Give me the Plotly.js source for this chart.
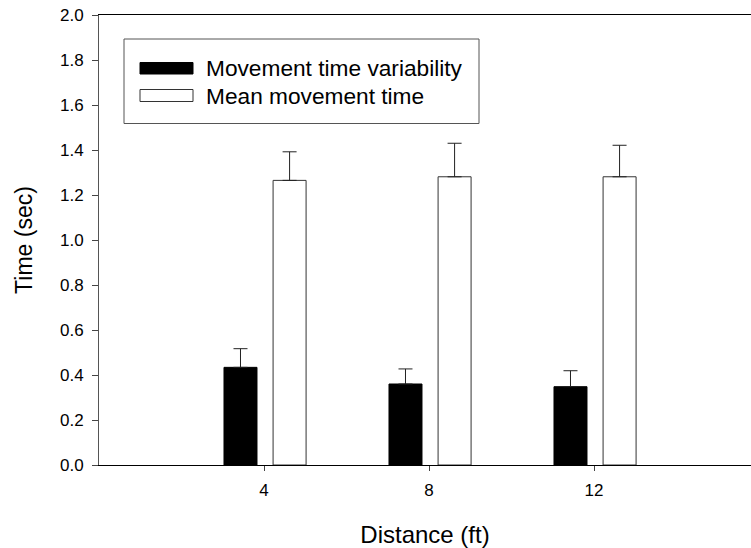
<!DOCTYPE html>
<html><head><meta charset="utf-8">
<script src="https://cdn.plot.ly/plotly-3.0.1.min.js"></script>
<style>html,body{margin:0;padding:0;background:#fff}</style>
</head><body><div id="chart" style="width:751px;height:548px"></div>
<script>
// ---- data ----
const distances = [4, 8, 12];
const xTickLabels = ['4', '8', '12'];
const variability = [0.434, 0.360, 0.348];
const variabilityErr = [0.083, 0.067, 0.071];
const meanTime = [1.265, 1.281, 1.281];
const meanTimeErr = [0.127, 0.149, 0.140];
const seriesNames = ['Movement time variability', 'Mean movement time'];
const xTitle = 'Distance (ft)';
const yTitle = 'Time (sec)';

// ---- layout helpers (pixel -> paper) ----
const L = 99, R = 751, T = 15, B = 465;
const px = v => (v - L) / (R - L);
const py = v => (B - v) / (B - T);

const zeros = distances.map(() => 0);

const traces = [
  {
    type: 'bar', name: seriesNames[0], x: distances, y: variability,
    offset: -0.97, width: 0.8,
    marker: {color: '#000000', line: {color: '#000000', width: 1}},
    error_y: {type: 'data', symmetric: false, array: variabilityErr, arrayminus: zeros,
              color: '#222222', thickness: 1, width: 7},
    showlegend: false
  },
  {
    type: 'bar', name: seriesNames[1], x: distances, y: meanTime,
    offset: 0.22, width: 0.8,
    marker: {color: '#ffffff', line: {color: '#333333', width: 1}},
    error_y: {type: 'data', symmetric: false, array: meanTimeErr, arrayminus: zeros,
              color: '#222222', thickness: 1, width: 7},
    showlegend: false
  }
];

const font = {family: 'Arial, "Liberation Sans", sans-serif', color: '#000'};

const layout = {
  width: 751, height: 548,
  margin: {l: L, r: 0, t: T, b: 548 - B, pad: 0},
  paper_bgcolor: '#fff', plot_bgcolor: '#fff',
  font: font,
  showlegend: false,
  xaxis: {
    range: [0, 652 / 41.25], tickvals: distances, ticktext: xTickLabels,
    showgrid: false, zeroline: false,
    showline: true, linecolor: '#000', linewidth: 1, mirror: true,
    ticks: 'outside', ticklen: 5, tickcolor: '#444', tickwidth: 1,
    tickfont: {family: font.family, size: 17, color: '#000'},
    ticklabelstandoff: 5,
    title: {text: xTitle, font: {family: font.family, size: 24, color: '#000'}, standoff: 32},
    automargin: false, fixedrange: true
  },
  yaxis: {
    range: [0, 2], dtick: 0.2, tick0: 0, tickformat: '.1f',
    showgrid: false, zeroline: false,
    showline: true, linecolor: '#555', linewidth: 1,
    ticks: 'outside', ticklen: 6, tickcolor: '#444', tickwidth: 1,
    tickfont: {family: font.family, size: 17, color: '#000'},
    ticklabelstandoff: 5,
    title: {text: yTitle, font: {family: font.family, size: 23, color: '#000'}, standoff: 20},
    automargin: false, fixedrange: true
  },
  shapes: [
    {type: 'rect', xref: 'paper', yref: 'paper', x0: px(124), x1: px(479), y0: py(39), y1: py(123.5),
     line: {color: '#555', width: 1}, fillcolor: 'rgba(0,0,0,0)'},
    {type: 'rect', xref: 'paper', yref: 'paper', x0: px(140), x1: px(193), y0: py(62.5), y1: py(74),
     line: {color: '#000', width: 1}, fillcolor: '#000'},
    {type: 'rect', xref: 'paper', yref: 'paper', x0: px(140), x1: px(193), y0: py(89.5), y1: py(101.5),
     line: {color: '#333', width: 1}, fillcolor: '#fff'}
  ],
  annotations: [
    {xref: 'paper', yref: 'paper', x: px(204), y: py(68), xanchor: 'left', yanchor: 'middle',
     text: seriesNames[0], showarrow: false, font: {family: font.family, size: 22.7, color: '#000'}},
    {xref: 'paper', yref: 'paper', x: px(204), y: py(95.5), xanchor: 'left', yanchor: 'middle',
     text: seriesNames[1], showarrow: false, font: {family: font.family, size: 22.7, color: '#000'}}
  ]
};

Plotly.newPlot('chart', traces, layout, {displayModeBar: false, staticPlot: true});
</script>
</body></html>
